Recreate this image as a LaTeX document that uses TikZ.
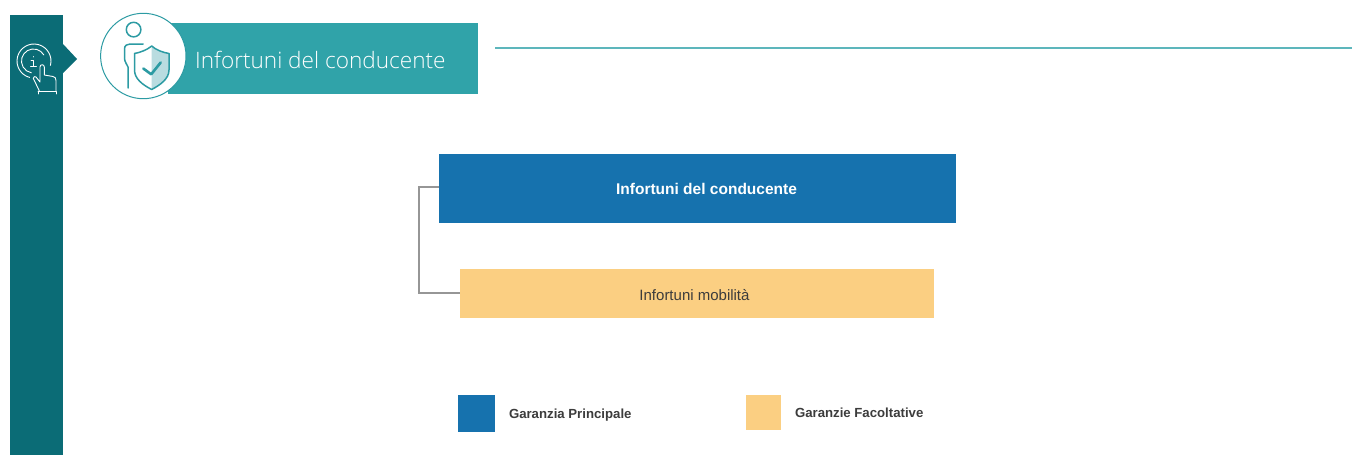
\documentclass[tikz,border=0pt]{standalone}
\usepackage{fontspec}
\setmainfont{Liberation Sans}
\newfontfamily\lightf{Open Sans Light}
\definecolor{sidebar}{HTML}{0B6C76}
\definecolor{banner}{HTML}{30A3A9}
\definecolor{iconline}{HTML}{2C9BA3}
\definecolor{rulecol}{HTML}{5DB6BC}
\definecolor{iconfill}{HTML}{B9DCE0}
\definecolor{mainblue}{HTML}{1672AE}
\definecolor{optorange}{HTML}{FBCF82}
\definecolor{conn}{HTML}{969696}
\definecolor{txt}{HTML}{3C3C3C}
\tikzset{
  x=1pt,y=-1pt,
  lbl/.style={inner sep=0pt,outer sep=0pt,anchor=west,text=txt,font=\bfseries\fontsize{13.2}{15}\selectfont},
  link/.style={draw=conn,line width=1.6pt,line join=miter},
  teal/.style={draw=iconline,line width=1.5pt,line cap=round,line join=round,fill=none},
  wh/.style={draw=white,line width=0.9pt,line cap=round,line join=round,fill=none},
}
\begin{document}
\begin{tikzpicture}
\useasboundingbox (0,0) rectangle (1352,455);
% sidebar
\fill[sidebar] (10,15) rectangle (63,455);
\fill[sidebar] (63,44) -- (77,59) -- (63,73) -- cycle;
% info hand icon
\draw[wh] (34,61) ++(15:17) arc[start angle=15,end angle=-255,radius=17];
\draw[wh] (33.5,61) ++(-30:12) arc[start angle=-30,end angle=-260,radius=12];
\draw[wh] (33.3,56.5) -- (33.3,57);
\draw[wh] (31,60.5) -- (33.5,60.5) -- (33.5,66) (30.5,66) -- (36.5,66);
\draw[wh] (39.3,90.7) -- (33.3,78.5) .. controls (33.5,76.5) and (35,76) .. (36,77) -- (40,82) -- (40,67) .. controls (40,64) and (44.3,64) .. (44.3,67) -- (44.3,75) -- (53,76.5) .. controls (55,77) and (56,78) .. (56,80.5) -- (56,90.7);
\draw[wh] (38,91) -- (56.5,91) -- (56.5,94) (38,91) -- (38,94);
% banner
\fill[banner] (168,23) rectangle (478,94);
\draw[iconline,line width=1pt,fill=white] (143.3,56) circle[radius=42.7];
\node[inner sep=0pt,anchor=west,text=white,font=\lightf\fontsize{22.6}{28}\selectfont] (title) at (195,59.5) {Infortuni del conducente};
% person icon
\draw[teal] (133.6,29.6) circle[radius=7.3];
\draw[teal] (128,88) -- (128,67) .. controls (127,64) and (124.5,62) .. (124.5,58) -- (124.5,49) .. controls (124.5,45.5) and (127,44) .. (130,44) -- (143,44);
% shield
\fill[iconfill] (151.7,46) .. controls (156,50) and (163,52.5) .. (169,53.5) -- (169,70) .. controls (169,79) and (160,85) .. (151.7,89.5) -- cycle;
\draw[teal] (151.7,46) .. controls (147,50) and (140,52.5) .. (134.5,53.5) -- (134.5,70) .. controls (134.5,79) and (143,85) .. (151.7,89.5) .. controls (160,85) and (169,79) .. (169,70) -- (169,53.5) .. controls (163,52.5) and (156,50) .. (151.7,46) -- cycle;
\draw[teal,line width=2.6pt] (143.3,68.5) -- (151.2,74.3) -- (160.7,62.5);
% top rule
\coordinate (ruleL) at (495,47.6);
\coordinate (ruleR) at (1352,47.6);
\draw[draw=rulecol,line width=1.8pt] (ruleL) -- (ruleR);
% main boxes
\path[fill=mainblue] (439,154) rectangle (956,223);
\node[inner sep=0pt,outer sep=0pt,minimum width=517pt,minimum height=69pt] (main) at (697.5,188.5) {};
\node[inner sep=0pt,text=white,font=\bfseries\fontsize{15.5}{17}\selectfont] (mainlabel) at (706.5,188.5) {Infortuni del conducente};
\path[fill=optorange] (460,269) rectangle (934,318);
\node[inner sep=0pt,outer sep=0pt,minimum width=474pt,minimum height=49pt] (opt) at (697,293.5) {};
\node[inner sep=0pt,text=txt,font=\fontsize{15}{17}\selectfont] (optlabel) at (694.5,295) {Infortuni mobilità};
% connector
\draw[link] ([yshift=1.5pt]main.west) -- (419,187) -- (419,293) -- ([yshift=0.5pt]opt.west);
% legend
\fill[mainblue] (458,395) rectangle (495,432);
\node[lbl] (leg1) at (509,415) {Garanzia Principale};
\fill[optorange] (746,395) rectangle (781,430);
\node[lbl] (leg2) at (795,413) {Garanzie Facoltative};
\end{tikzpicture}
\end{document}
